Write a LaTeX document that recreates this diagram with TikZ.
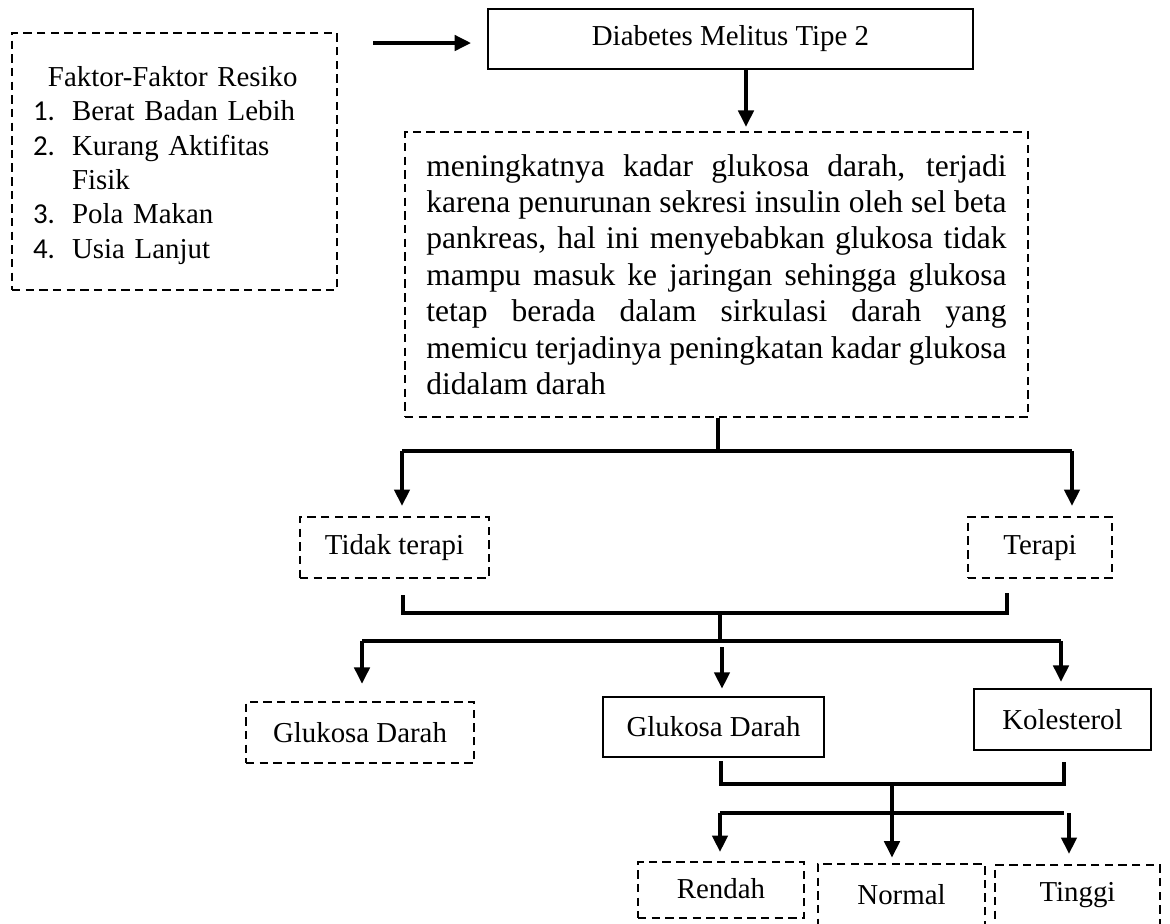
\documentclass[tikz,border=0pt]{standalone}
\usepackage{fontspec}
\setmainfont{Liberation Serif}
\newfontfamily\calibri{Carlito}
\usetikzlibrary{arrows.meta}

\begin{document}
\begin{tikzpicture}[x=0.381pt, y=-0.381pt]
    \tikzstyle{solidbox} = [rectangle, draw, line width=1pt, inner sep=0pt, font=\fontsize{11}{13.1}\selectfont]
    \tikzstyle{dashbox} = [solidbox, dash pattern=on 3.2pt off 2pt]
    \tikzstyle{conn} = [line width=1.2pt]
    \tikzstyle{arr} = [conn, -{Triangle[width=5.9pt, length=6.2pt]}]
    \clip (0,0) rectangle (1170,923);
    \node[dashbox, text width=107.8pt, inner xsep=8pt, minimum height=97.9pt, align=left] (risk) at (174.5,161.5) {%
        \hspace*{5.7pt}Faktor-Faktor Resiko\\
        \makebox[14.9pt][l]{\calibri 1.}Berat Badan Lebih\\
        \makebox[14.9pt][l]{\calibri 2.}Kurang Aktifitas\\
        \hspace*{14.9pt}Fisik\\
        \makebox[14.9pt][l]{\calibri 3.}Pola Makan\\
        \makebox[14.9pt][l]{\calibri 4.}Usia Lanjut\vspace*{-3pt}};
    \node[solidbox, minimum width=184.8pt, minimum height=22.9pt] (dm) at (730.5,39) {Diabetes Melitus Tipe 2};
    \node[dashbox, font=\fontsize{12}{13.87}\selectfont, text width=221pt, inner xsep=8.2pt, minimum height=108.6pt, align=justify] (info) at (716.5,274.5) {%
        meningkatnya kadar glukosa darah, terjadi\linebreak
        karena penurunan sekresi insulin oleh sel beta\linebreak
        pankreas, hal ini menyebabkan glukosa tidak\linebreak
        mampu masuk ke jaringan sehingga glukosa\linebreak
        tetap berada dalam sirkulasi darah yang\linebreak
        memicu terjadinya peningkatan kadar glukosa\linebreak
        didalam darah};
    \node[dashbox, minimum width=72pt, minimum height=23.2pt] (notx) at (394.5,547.5) {Tidak terapi};
    \node[dashbox, minimum width=54.9pt, minimum height=23.2pt] (tx) at (1040,547.5) {Terapi};
    \node[dashbox, minimum width=86.9pt, minimum height=23.2pt] (gdnot) at (360,732.5) {Glukosa Darah};
    \node[solidbox, minimum width=84.2pt, minimum height=22.9pt] (gd) at (713.5,727) {Glukosa Darah};
    \node[solidbox, minimum width=67.4pt, minimum height=23.2pt] (chol) at (1062.5,719.5) {Kolesterol};
    \node[dashbox, minimum width=63.2pt, minimum height=21.3pt, text depth=1.2pt] (low) at (721,890) {Rendah};
    \node[dashbox, minimum width=63.6pt, minimum height=23.6pt] (mid) at (901.5,895) {Normal};
    \node[dashbox, minimum width=62.9pt, minimum height=23.2pt] (high) at (1077.5,895.5) {Tinggi};
    % top arrows
    \coordinate (a0) at (373,43);
    \coordinate (a1) at (746,0);
    \draw[arr, shorten >=6pt] (a0) -- (a0 -| dm.west);
    \draw[arr, shorten >=1.5pt] (a1 |- dm.south) -- (a1 |- info.north);
    % split into therapy
    \coordinate (b0) at (718,451);
    \coordinate (b1) at (402,451);
    \coordinate (b2) at (1072,451);
    \draw[conn] (b0 |- info.south) -- (b0);
    \draw[conn] (b1) -- (b2);
    \draw[arr, shorten >=3.8pt] (b1) -- (b1 |- notx.north);
    \draw[arr, shorten >=3.8pt] (b2) -- (b2 |- tx.north);
    % join and split into measurements
    \coordinate (c0) at (720,613);
    \coordinate (c1) at (403,613);
    \coordinate (c2) at (1007,613);
    \draw[conn] ([yshift=-6pt]notx.south -| c1) -- (c1) -- (c2) -- ([yshift=-5.3pt]tx.south -| c2);
    \coordinate (d0) at (720,641);
    \coordinate (d1) at (362,641);
    \coordinate (d2) at (1061,641);
    \coordinate (d3) at (722,647);
    \draw[conn] (c0) -- (d0);
    \draw[conn] (d1) -- (d2);
    \draw[arr, shorten >=6.5pt] (d1) -- (d1 |- gdnot.north);
    \draw[arr, shorten >=2.7pt] (d3) -- (d3 |- gd.north);
    \draw[arr, shorten >=2.3pt] (d2) -- (d2 |- chol.north);
    % join and split into levels
    \coordinate (e0) at (892,784);
    \coordinate (e1) at (721,784);
    \coordinate (e2) at (1064,784);
    \draw[conn] ([yshift=-1.1pt]gd.south -| e1) -- (e1) -- (e2) -- ([yshift=-4.2pt]chol.south -| e2);
    \coordinate (f0) at (892,813);
    \coordinate (f1) at (720,813);
    \coordinate (f2) at (1064,813);
    \coordinate (f3) at (1069,813);
    \draw[conn] (e0) -- (f0);
    \draw[conn] (f1) -- (f2);
    \draw[arr, shorten >=3.4pt] (f1) -- (f1 |- low.north);
    \draw[arr, shorten >=2pt] (f0) -- (f0 |- mid.north);
    \draw[arr, shorten >=3.8pt] (f3) -- (f3 |- high.north);
\end{tikzpicture}
\end{document}
